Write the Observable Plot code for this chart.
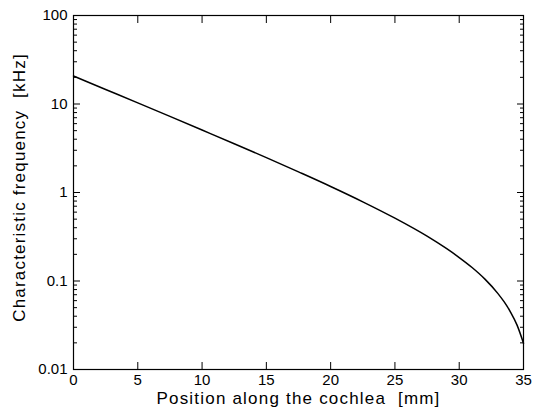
<!DOCTYPE html>
<html>
<head>
<meta charset="utf-8">
<script src="https://cdn.jsdelivr.net/npm/d3@7"></script>
<script src="https://cdn.jsdelivr.net/npm/@observablehq/plot@0.6"></script>
<style>
  html, body { margin: 0; padding: 0; background: #fff; }
  #chart svg { display: block; }
  .title-text text { letter-spacing: 1.2px; }
</style>
</head>
<body>
<div id="chart"></div>
<script>
// Position along the cochlea [mm]
const positions = [0, 2.5, 5, 7.5, 10, 12.5, 15, 17.5, 20, 22.5, 25, 27.5, 29, 30, 31, 32, 33, 33.5, 34, 34.5, 35];
// Characteristic frequency [kHz]
const frequencies = [20.7, 14.6, 10.3, 7.24, 5.08, 3.56, 2.48, 1.71, 1.17, 0.785, 0.513, 0.321, 0.233, 0.184, 0.142, 0.105, 0.0725, 0.058, 0.0443, 0.0317, 0.0198];

const xTicks = [0, 5, 10, 15, 20, 25, 30, 35];
const yMajorTicks = [0.01, 0.1, 1, 10, 100];
const yMinorTicks = [];
for (const d of [0.01, 0.1, 1, 10]) for (const m of [2, 3, 4, 5, 6, 7, 8, 9]) yMinorTicks.push(+(d * m).toPrecision(3));

const data = positions.map((p, i) => ({pos: p, freq: frequencies[i]}));

const chart = Plot.plot({
  width: 533,
  height: 415,
  marginLeft: 73,
  marginRight: 10,
  marginTop: 15,
  marginBottom: 46,
  style: {fontFamily: "'Liberation Sans', Arial, sans-serif", fontSize: "15px", color: "#000", background: "#fff"},
  x: {domain: [0, 35]},
  y: {type: "log", domain: [0.01, 100]},
  marks: [
    Plot.frame({stroke: "#000", strokeWidth: 1.2}),
    Plot.axisX({anchor: "bottom", ticks: xTicks, tickSize: -7, tickPadding: 12, tickFormat: d => String(d), label: null, fontSize: 15}),
    Plot.axisX({anchor: "top", ticks: xTicks, tickSize: -7, tickFormat: () => "", label: null}),
    Plot.axisY({anchor: "left", ticks: yMajorTicks, tickSize: -7, tickPadding: 13, tickFormat: d => String(d), label: null, fontSize: 15}),
    Plot.axisY({anchor: "left", ticks: yMinorTicks, tickSize: -4, tickFormat: () => "", label: null}),
    Plot.axisY({anchor: "right", ticks: yMajorTicks, tickSize: -7, tickFormat: () => "", label: null}),
    Plot.axisY({anchor: "right", ticks: yMinorTicks, tickSize: -4, tickFormat: () => "", label: null}),
    Plot.line(data, {x: "pos", y: "freq", stroke: "#000", strokeWidth: 1.5, curve: "monotone-x"}),
    Plot.text(["Position along the cochlea  [mm]"], {frameAnchor: "bottom", dy: 34, fontSize: 17, className: "title-text", text: d => d}),
    Plot.text(["Characteristic frequency  [kHz]"], {frameAnchor: "left", dx: -54, dy: -5, rotate: -90, textAnchor: "middle", fontSize: 17, className: "title-text", text: d => d})
  ]
});
document.getElementById("chart").appendChild(chart);
</script>
</body>
</html>
